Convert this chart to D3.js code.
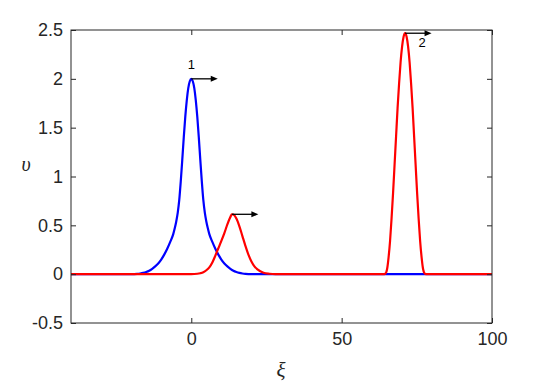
<!DOCTYPE html>
<html><head><meta charset="utf-8">
<script src="https://cdn.jsdelivr.net/npm/d3@7"></script>
<style>body{margin:0;background:#fff}svg{display:block}</style>
</head><body>
<script>
// ---- data ----
const blueX = [-40,-25,-20,-18,-17,-16,-15,-14,-13,-12,-11,-10,-9,-8,-7,-6,-5.5,-5,-4.5,-4,-3.5,-3,-2.5,-2,-1.5,-1,-0.5,0,0.5,1,1.5,2,2.5,3,3.5,4,4.5,5,5.5,6,7,8,9,10,11,12,13,14,15,16,17,18,20,25,40,60,80,100];
const blueY = [0,0,0,0.003,0.007,0.013,0.022,0.035,0.055,0.08,0.11,0.15,0.2,0.26,0.33,0.41,0.47,0.54,0.63,0.76,0.95,1.17,1.40,1.61,1.78,1.905,1.975,2,1.975,1.905,1.78,1.61,1.40,1.17,0.95,0.76,0.63,0.54,0.47,0.41,0.33,0.26,0.2,0.15,0.11,0.08,0.055,0.035,0.022,0.013,0.007,0.003,0,0,0,0,0,0];
const redX = [-40,-20,0,2,3,4,5,6,7,8,9,10,11,12,13,13.5,14,15,16,17,18,19,20,21,22,24,26,28,40,60,63.8,64.5,65.1,65.6,66.1,66.6,67.1,67.6,68.1,68.6,69.1,69.6,70.1,70.6,71.1,71.6,72.1,72.6,73.1,73.6,74.1,74.6,75.1,75.6,76.1,76.6,77.1,77.7,78.4,85,100];
const redY = [0,0,0,0.004,0.01,0.02,0.04,0.07,0.12,0.19,0.265,0.34,0.42,0.51,0.585,0.613,0.61,0.57,0.49,0.39,0.29,0.2,0.13,0.08,0.05,0.015,0.004,0,0,0,0,0.005,0.05,0.17,0.34,0.57,0.83,1.12,1.41,1.70,1.95,2.17,2.33,2.43,2.467,2.43,2.33,2.17,1.95,1.70,1.41,1.12,0.83,0.57,0.34,0.17,0.05,0.005,0,0,0];
const arrowX = [0,13.5,71.1];
const arrowY = [2,0.613,2.467];
const arrowLen = 8.8;
const labelText = ["1","2"];
const labelX = [0,76.8];
const labelY = [2.10,2.33];
const xTicks = [0,50,100];
const yTicks = [-0.5,0,0.5,1,1.5,2,2.5];

const W=545,H=383;
const svg=d3.select("body").append("svg").attr("width",W).attr("height",H);
const x=d3.scaleLinear().domain([-40,100]).range([71,492]);
const y=d3.scaleLinear().domain([-0.5,2.5]).range([323,30]);
const axisCol="#262626";
const fmt=d=>d===0?"0":(""+d);

// curves
const line=d3.line().x(d=>x(d[0])).y(d=>y(d[1])).curve(d3.curveMonotoneX);
svg.append("path").datum(blueX.map((v,i)=>[v,blueY[i]])).attr("d",line)
  .attr("fill","none").attr("stroke","#0000ff").attr("stroke-width",2.2);
svg.append("path").datum(redX.map((v,i)=>[v,redY[i]])).attr("d",line)
  .attr("fill","none").attr("stroke","#ff0000").attr("stroke-width",2.2);

// axes
const g=svg.append("g");
g.append("g").attr("transform","translate(0,323)").call(d3.axisBottom(x).tickValues(xTicks).tickSize(-5).tickPadding(9).tickFormat(fmt));
g.append("g").attr("transform","translate(0,30)").call(d3.axisTop(x).tickValues(xTicks).tickSize(-5).tickFormat(""));
g.append("g").attr("transform","translate(71,0)").call(d3.axisLeft(y).tickValues(yTicks).tickSize(-5).tickPadding(8).tickFormat(fmt));
g.append("g").attr("transform","translate(492,0)").call(d3.axisRight(y).tickValues(yTicks).tickSize(-5).tickFormat(""));
g.selectAll(".domain").remove();
g.selectAll(".tick line").attr("stroke",axisCol);
g.selectAll(".tick text").attr("fill",axisCol).style("font-family","'Liberation Sans',Arial,sans-serif").style("font-size","18px");
// box
svg.append("rect").attr("x",71).attr("y",30).attr("width",421).attr("height",293)
  .attr("fill","none").attr("stroke",axisCol).attr("stroke-width",1);

// arrows
const ag=svg.append("g");
arrowX.forEach((ax,i)=>{
  const x0=x(ax),x1=x(ax+arrowLen),yy=y(arrowY[i]);
  ag.append("line").attr("x1",x0).attr("x2",x1-4).attr("y1",yy).attr("y2",yy).attr("stroke","#000").attr("stroke-width",1.3);
  ag.append("path").attr("d",`M${x1},${yy}L${x1-7},${yy-3}L${x1-7},${yy+3}Z`).attr("fill","#000");
});
labelText.forEach((t,i)=>{
  svg.append("text").attr("x",x(labelX[i])).attr("y",y(labelY[i])).attr("text-anchor","middle")
    .style("font-family","'Liberation Sans',Arial,sans-serif").style("font-size","13px").attr("fill","#000").text(t);
});

// axis labels
svg.append("text").attr("x",281).attr("y",377).attr("text-anchor","middle")
  .style("font-family","'Liberation Serif','DejaVu Serif',serif").style("font-style","italic").style("font-size","21px").attr("fill",axisCol).text("ξ");
svg.append("text").attr("x",26).attr("y",171).attr("text-anchor","middle")
  .style("font-family","'Liberation Serif','DejaVu Serif',serif").style("font-style","italic").style("font-size","20px").attr("fill",axisCol).text("υ");
</script>
</body></html>
